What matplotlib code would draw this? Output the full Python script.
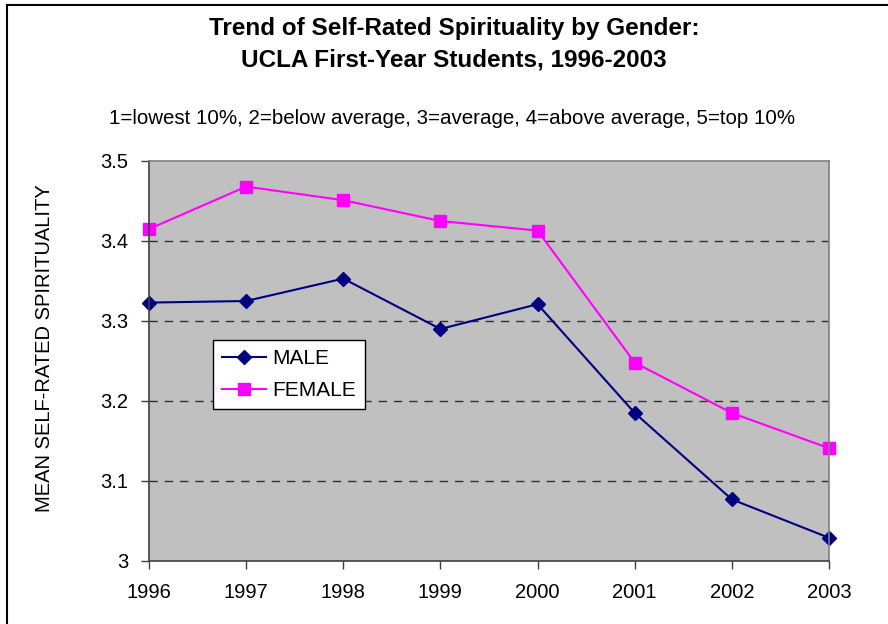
import matplotlib
matplotlib.use("Agg")
import matplotlib.pyplot as plt
from matplotlib.lines import Line2D

# ── 数据 ──
years  = [1996, 1997, 1998, 1999, 2000, 2001, 2002, 2003]
male   = [3.323, 3.325, 3.353, 3.290, 3.321, 3.185, 3.077, 3.029]
female = [3.415, 3.468, 3.451, 3.425, 3.413, 3.248, 3.185, 3.141]
yticks = [3.0, 3.1, 3.2, 3.3, 3.4, 3.5]
ytick_labels = ["3", "3.1", "3.2", "3.3", "3.4", "3.5"]

TITLE = "Trend of Self-Rated Spirituality by Gender:\nUCLA First-Year Students, 1996-2003"
SUBTITLE = "1=lowest 10%, 2=below average, 3=average, 4=above average, 5=top 10%"
YLABEL = "MEAN SELF-RATED SPIRITUALITY"

plt.rcParams["font.family"] = ["Liberation Sans", "DejaVu Sans"]

fig = plt.figure(figsize=(8.88, 6.24), dpi=100)
ax = fig.add_axes([149 / 888, 63 / 624, 680 / 888, 400 / 624])
ax.set_facecolor("#C0C0C0")

ax.plot(years, male, color="#000080", lw=1.5, marker="D", ms=7.5,
        label="MALE", zorder=3, clip_on=False)
ax.plot(years, female, color="#FF00FF", lw=1.5, marker="s", ms=8,
        label="FEMALE", zorder=3, clip_on=False)

ax.set_xlim(years[0], years[-1])
ax.set_ylim(3.0, 3.5)
ax.set_xticks(years)
ax.set_yticks(yticks)
ax.set_yticklabels(ytick_labels)
for y in yticks[1:-1]:
    ax.axhline(y, color="#303030", lw=1, ls=(0, (6, 5)), zorder=1)

ax.tick_params(axis="both", direction="out", length=6, width=1,
               labelsize=14.5, color="#404040")
ax.tick_params(axis="y", pad=9)
ax.tick_params(axis="x", pad=10)
for s in ("left", "bottom"):
    ax.spines[s].set_color("#404040")
for s in ("top", "right"):
    ax.spines[s].set_color("#808080")
for s in ax.spines.values():
    s.set_linewidth(1.2)
    s.set_zorder(4)

leg = ax.legend(loc="upper left", bbox_to_anchor=(0.094, 0.5525),
                borderaxespad=0, fontsize=15, frameon=True, fancybox=False,
                edgecolor="black", framealpha=1, handlelength=2.1,
                labelspacing=0.6, borderpad=0.45, handletextpad=0.3)
leg.get_frame().set_linewidth(1)

fig.text(454 / 888, 1 - 44 / 624, TITLE, ha="center", va="center",
         fontsize=17.5, fontweight="bold", linespacing=1.5)
fig.text(452 / 888, 1 - 118 / 624, SUBTITLE, ha="center", va="center",
         fontsize=14.8)
fig.text(45 / 888, 1 - 348 / 624, YLABEL, ha="center", va="center",
         rotation=90, fontsize=14.5)

# 外框（右、下被裁掉）
fig.add_artist(Line2D([7 / 888, 7 / 888], [0, 1 - 5 / 624],
                      transform=fig.transFigure, color="black", lw=1.5))
fig.add_artist(Line2D([7 / 888, 1], [1 - 5 / 624, 1 - 5 / 624],
                      transform=fig.transFigure, color="black", lw=1.5))

fig.savefig("out.png", dpi=100)
